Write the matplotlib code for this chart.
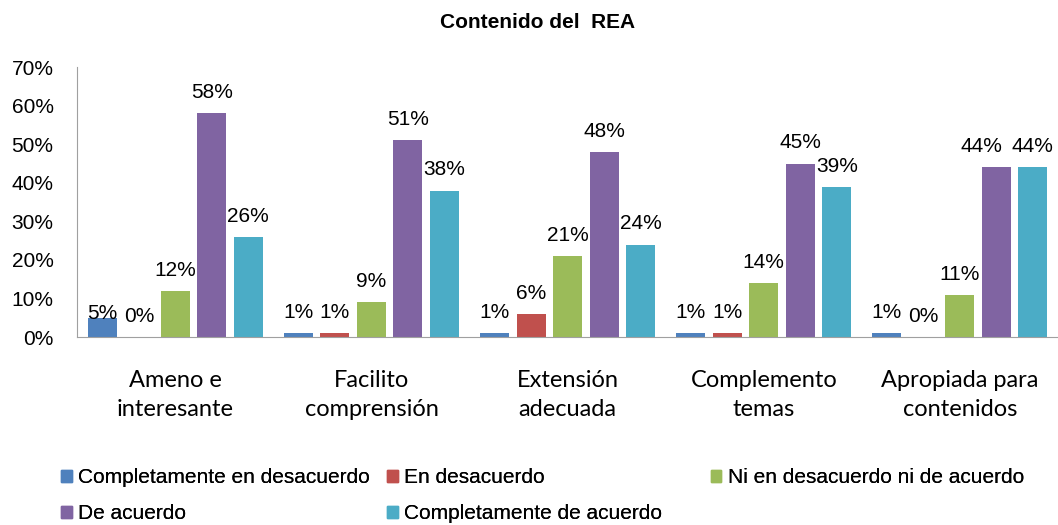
import numpy as np
import matplotlib
matplotlib.use("Agg")
import matplotlib.pyplot as plt
from matplotlib.patches import Patch

plt.rcParams['font.family'] = ['Liberation Sans', 'DejaVu Sans']

categories = ["Ameno e\ninteresante", "Facilito\ncomprensión", "Extensión\nadecuada",
              "Complemento\ntemas", "Apropiada para\ncontenidos"]
series_names = ["Completamente en desacuerdo", "En desacuerdo",
                "Ni en desacuerdo ni de acuerdo", "De acuerdo",
                "Completamente de acuerdo"]
values = [
    [5, 1, 1, 1, 1],        # Completamente en desacuerdo
    [0, 1, 6, 1, 0],        # En desacuerdo
    [12, 9, 21, 14, 11],    # Ni en desacuerdo ni de acuerdo
    [58, 51, 48, 45, 44],   # De acuerdo
    [26, 38, 24, 39, 44],   # Completamente de acuerdo
]
colors = ["#4F81BD", "#C0504D", "#9BBB59", "#8064A2", "#4BACC6"]

# labels that were moved by hand in the original (series, category) -> (dx, dy) points
nudge = {(0, 0): (0, -12), (3, 4): (-11, 0)}

fig = plt.figure(figsize=(10.58, 5.25), dpi=100)
ax = fig.add_axes([0.073, 0.358, 0.927, 0.514])

x = np.arange(len(categories)) + 0.5
pitch = 0.186
width = 0.148
handles = []
for i, (name, vals, c) in enumerate(zip(series_names, values, colors)):
    pos = x + (i - 2) * pitch
    ax.bar(pos, vals, width, color=c, label=name)
    for j, (xp, v) in enumerate(zip(pos, vals)):
        dx, dy = nudge.get((i, j), (0, 0))
        ax.annotate(f"{v}%", (xp, v), xytext=(dx, 8 + dy), textcoords="offset points",
                    ha="center", va="bottom", fontsize=15)
    handles.append(Patch(color=c, label=name))

ax.set_xlim(0, 5)
ax.set_ylim(0, 70)
ax.set_yticks(range(0, 71, 10))
ax.set_yticklabels([f"{t}%" for t in range(0, 71, 10)], fontsize=15)
ax.set_xticks(x)
ax.set_xticklabels(categories, fontsize=17, linespacing=1.45, family=["Lato", "DejaVu Sans"])
ax.tick_params(axis="both", length=0)
ax.tick_params(axis="x", pad=24)
ax.tick_params(axis="y", pad=17)
for s in ["top", "right"]:
    ax.spines[s].set_visible(False)
for s in ["left", "bottom"]:
    ax.spines[s].set_color("#A0A0A0")

fig.text(0.508, 0.958, "Contenido del  REA", ha="center", va="center",
         fontsize=15, fontweight="bold")

# legend laid out in three columns, row-major like the original
cols = [[0, 3], [1, 4], [2]]
col_x = [0.058, 0.366, 0.672]
for cx, idx in zip(col_x, cols):
    leg = fig.legend(handles=[handles[k] for k in idx], loc="upper left",
                     bbox_to_anchor=(cx, 0.108), frameon=False, fontsize=15,
                     handlelength=0.5, handleheight=0.5, handletextpad=0.3,
                     labelspacing=0.8, borderaxespad=0, borderpad=0)
    fig.add_artist(leg)

fig.savefig("out.png", dpi=100)
